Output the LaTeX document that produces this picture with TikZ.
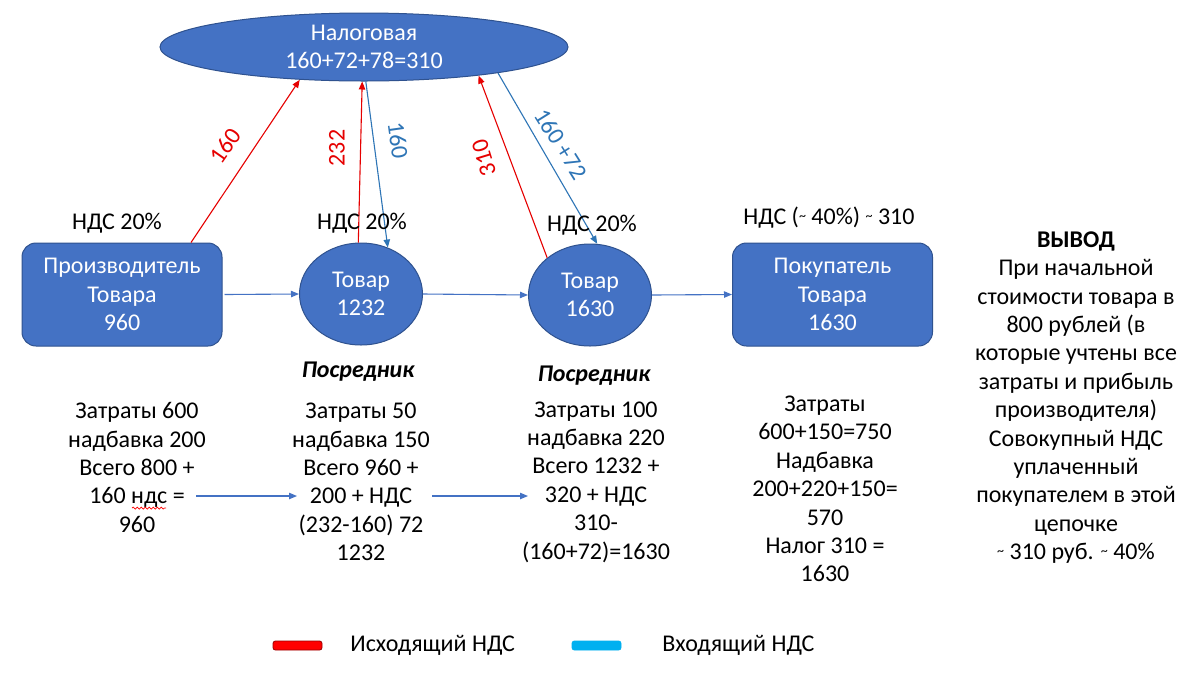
\documentclass[tikz,border=0pt]{standalone}
\usepackage{fontspec}
\setmainfont{Carlito}
\usetikzlibrary{shapes.geometric,arrows.meta,decorations.pathmorphing}
\definecolor{boxblue}{HTML}{4472C4}
\definecolor{boxedge}{HTML}{2F528F}
\definecolor{lineblue}{HTML}{4472C4}
\definecolor{labblue}{HTML}{2E75B6}
\definecolor{vatred}{HTML}{E60000}
\definecolor{legblue}{HTML}{00B0F0}
\begin{document}
\begin{tikzpicture}[x=0.5pt,y=-0.5pt,
  every node/.style={font=\fontsize{12}{14.2}\selectfont, inner sep=0pt, align=center},
  bluebox/.style={draw=boxedge, fill=boxblue, text=white, line width=0.5pt},
  rbox/.style={bluebox, rectangle, rounded corners=7pt, minimum width=100pt, minimum height=51.5pt},
  oval/.style={bluebox, ellipse, minimum width=61.5pt, minimum height=51pt},
  tip/.style={-{Triangle[length=4pt,width=3.2pt]}},
  flow/.style={draw=lineblue, line width=0.55pt, tip},
  outvat/.style={draw=vatred, line width=0.55pt, tip},
  invat/.style={draw=labblue, line width=0.55pt, tip},
  redlab/.style={text=vatred},
  bluelab/.style={text=labblue},
  legbar/.style={rectangle, rounded corners=1.2pt, minimum width=24.5pt, minimum height=4.5pt, line width=0.4pt}
]
\fill[white] (0,0) rectangle (1200,676);
\useasboundingbox (0,0) rectangle (1200,676);

% main shapes
\node[bluebox, ellipse, minimum width=204pt, minimum height=34pt] (nalog) at (364,47) {Налоговая\\160+72+78=310};
\node[rbox] (prod) at (122,294.5) {Производитель\\Товара\\960};
\node[oval] (t1) at (361,294) {Товар\\1232};
\node[oval] (t2) at (590,295) {Товар\\1630};
\node[rbox] (buy) at (832.5,294.5) {Покупатель\\Товара\\1630};

% horizontal flow
\draw[flow] (prod.east) ++(2,0) -- (t1.west);
\draw[flow] (t1.east) -- (t2.west);
\draw[flow] (t2.east) -- (buy.west);

% VAT arrows
\draw[outvat] (prod.37) -- (nalog.207);
\draw[outvat] (t1.93) -- (nalog.267);
\draw[invat] (nalog.273) -- (t1.60);
\draw[outvat] (t2.139) -- (nalog.346);
\draw[invat] (nalog.349) -- (t2.82);

% arrow labels
\node[redlab, rotate=55] (l1) at (225,146) {160};
\node[redlab, rotate=90] (l2) at (337,148) {232};
\node[bluelab, rotate=-82] (l3) at (398,140) {160};
\node[redlab, rotate=107] (l4) at (484,158) {310};
\node[bluelab, rotate=-58] (l5) at (561,144) {160 +72};

% VAT rates
\node (n1) at (117,223) {НДС 20\%};
\node (n2) at (362,223) {НДС 20\%};
\node (n3) at (592,225) {НДС 20\%};
\node (n4) at (829,218) {НДС (\raisebox{0.35ex}{\scriptsize\textasciitilde} 40\%) \raisebox{0.35ex}{\scriptsize\textasciitilde} 310};

\node[font=\fontsize{12}{14.2}\selectfont\bfseries\itshape] (p1) at (358,372) {Посредник};
\node[font=\fontsize{12}{14.2}\selectfont\bfseries\itshape] (p2) at (594,376) {Посредник};

% text blocks
\node (b1) at (137,467.5) {Затраты 600\\надбавка 200\\Всего 800 +\\160 ндс =\\960};
\node (b2) at (361,482) {Затраты 50\\надбавка 150\\Всего 960 +\\200 + НДС\\(232-160) 72\\1232};
\node (b3) at (596,482) {Затраты 100\\надбавка 220\\Всего 1232 +\\320 + НДС\\310-\\(160+72)=1630};
\node (b4) at (825,489) {Затраты\\600+150=750\\Надбавка\\200+220+150=\\570\\Налог 310 =\\1630};
\node (concl) at (1076,397.5) {\textbf{ВЫВОД}\\При начальной\\стоимости товара в\\800 рублей (в\\которые учтены все\\затраты и прибыль\\производителя)\\Совокупный НДС\\уплаченный\\покупателем в этой\\цепочке\\\raisebox{0.35ex}{\scriptsize\textasciitilde} 310 руб. \raisebox{0.35ex}{\scriptsize\textasciitilde} 40\%};

% spell-check wave
\draw[red, line width=0.35pt, decorate, decoration={snake, amplitude=0.5pt, segment length=2pt}] (132,508) -- (166,508);

% block arrows
\coordinate (a1s) at (196,496);
\coordinate (a1e) at (297,496);
\coordinate (a2s) at (432,496);
\coordinate (a2e) at (528,496);
\draw[flow] (a1s) -- (a1e);
\draw[flow] (a2s) -- (a2e);

% legend
\node[legbar, draw=red!60!black, fill=red] (lr) at (297.5,645.5) {};
\node[anchor=west] (lrt) at (350,645) {Исходящий НДС};
\node[legbar, draw=legblue, fill=legblue] (lb) at (596.5,645.5) {};
\node[anchor=west] (lbt) at (662,645) {Входящий НДС};
\end{tikzpicture}
\end{document}
